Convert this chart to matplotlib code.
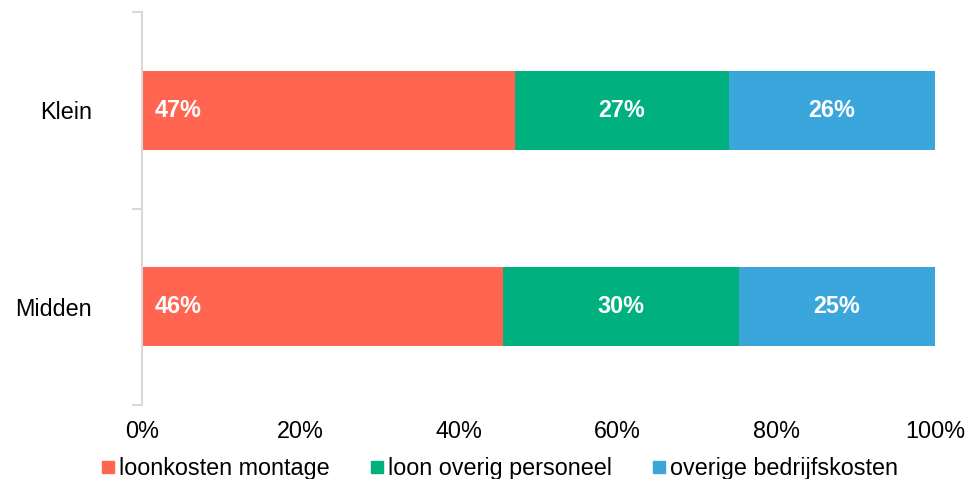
import matplotlib
matplotlib.use("Agg")
import matplotlib.pyplot as plt
from matplotlib.lines import Line2D
import numpy as np

plt.rcParams["font.family"] = ["Liberation Sans", "DejaVu Sans"]

categories = ["Midden", "Klein"]
series = ["loonkosten montage", "loon overig personeel", "overige bedrijfskosten"]
montage = [46, 47]
overig_personeel = [30, 27]
bedrijfskosten = [25, 26]
xticks = [0, 20, 40, 60, 80, 100]
colors = ["#FF6550", "#00B07E", "#3AA6DC"]

FS = 16.8

vals = np.array([montage, overig_personeel, bedrijfskosten], dtype=float)
shares = vals / vals.sum(axis=0) * 100          # 100% stacked

fig = plt.figure(figsize=(9.67, 4.79), dpi=100)
ax = fig.add_axes([142 / 967, 1 - 405 / 479, (935 - 142) / 967, (405 - 12) / 479])

y = np.arange(len(categories))
left = np.zeros(len(categories))
for i, (name, col) in enumerate(zip(series, colors)):
    ax.barh(y, shares[i], left=left, height=0.4, color=col, label=name)
    for j in range(len(categories)):
        txt = f"{vals[i, j]:.0f}%"
        if i == 0:
            ax.text(left[j] + 1.6, y[j], txt, ha="left", va="center",
                    color="white", fontsize=FS, fontweight="bold")
        else:
            ax.text(left[j] + shares[i, j] / 2, y[j], txt, ha="center", va="center",
                    color="white", fontsize=FS, fontweight="bold")
    left += shares[i]

ax.set_xlim(0, 100)
ax.set_ylim(-0.5, len(categories) - 0.5)
ax.set_xticks(xticks)
ax.set_xticklabels([f"{t}%" for t in xticks], fontsize=FS)
ax.tick_params(axis="x", length=0, pad=11)
ax.set_yticks(y)
ax.set_yticklabels(categories, fontsize=FS)
ax.tick_params(axis="y", which="major", length=0, pad=36)
ax.set_yticks([-0.5, 0.5, 1.5], minor=True)
ax.tick_params(axis="y", which="minor", length=7, width=1.5, color="#D9D9D9")

for s in ["top", "right", "bottom"]:
    ax.spines[s].set_visible(False)
ax.spines["left"].set_color("#D9D9D9")
ax.spines["left"].set_linewidth(1.5)

handles = [Line2D([], [], marker="s", linestyle="none", markersize=9,
                  markerfacecolor=c, markeredgecolor=c) for c in colors]
fig.legend(handles, series, loc="center", bbox_to_anchor=(0.517, 0.022), ncol=3,
           frameon=False, fontsize=FS, handlelength=0.55, handletextpad=0.2,
           columnspacing=1.75, borderpad=0)

fig.savefig("out.png", dpi=100)
